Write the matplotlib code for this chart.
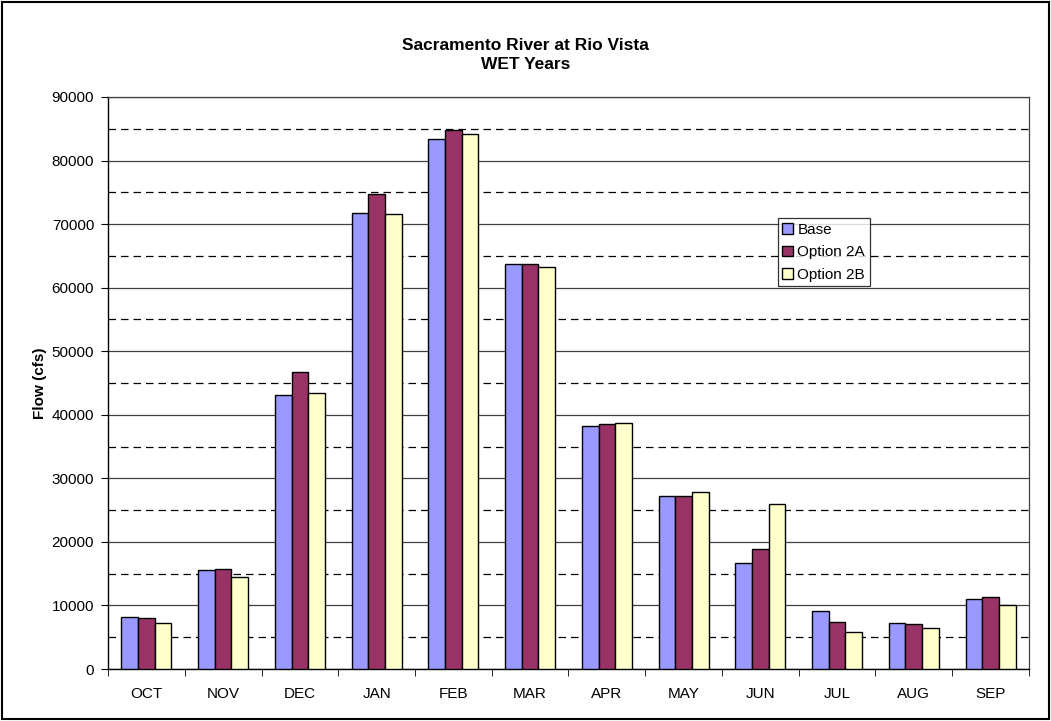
import matplotlib
matplotlib.use("Agg")
import matplotlib.pyplot as plt
import numpy as np
from matplotlib.patches import Rectangle

months = ["OCT", "NOV", "DEC", "JAN", "FEB", "MAR",
          "APR", "MAY", "JUN", "JUL", "AUG", "SEP"]
base = [8230, 15580, 43120, 71700, 83350, 63730,
        38240, 27270, 16730, 9130, 7190, 10960]
option_2a = [7980, 15690, 46780, 74700, 84760, 63730,
             38600, 27270, 18930, 7340, 7030, 11380]
option_2b = [7190, 14430, 43380, 71600, 84240, 63260,
             38710, 27900, 25960, 5770, 6400, 10120]

series = [("Base", base, "#9999FF"),
          ("Option 2A", option_2a, "#993366"),
          ("Option 2B", option_2b, "#FFFFCC")]

plt.rcParams["font.family"] = ["Liberation Sans", "DejaVu Sans"]

fig = plt.figure(figsize=(10.51, 7.21), dpi=100)
ax = fig.add_axes([0.1028, 0.0721, 0.8762, 0.7934])

x = np.arange(len(months))
width = 0.217
for i, (name, vals, color) in enumerate(series):
    ax.bar(x + (i - 1) * width, vals, width, color=color,
           edgecolor="black", linewidth=1.0, label=name, zorder=3)

ax.set_xlim(-0.5, len(months) - 0.5)
ax.set_ylim(0, 90000)

# y gridlines: solid every 10000, dashed halfway
ax.set_yticks(np.arange(0, 90001, 10000))
ax.set_yticks(np.arange(5000, 90000, 10000), minor=True)
ax.yaxis.grid(True, which="major", color="#404040", linewidth=0.9, zorder=0)
ax.yaxis.grid(True, which="minor", color="black", linestyle=(0, (6, 4)),
              linewidth=0.9, zorder=0)
ax.tick_params(axis="y", which="minor", length=0)
ax.tick_params(axis="y", which="major", length=5, direction="out",
               labelsize=11, pad=5)

# x ticks between categories, labels centered
ax.set_xticks(x)
ax.set_xticklabels(months)
ax.set_xticks(np.arange(-0.5, len(months)), minor=True)
ax.tick_params(axis="x", which="major", length=0, labelsize=11, pad=13)
ax.tick_params(axis="x", which="minor", length=5, direction="out")

ax.set_axisbelow(True)
for side in ["top", "right"]:
    ax.spines[side].set_color("#404040")
    ax.spines[side].set_linewidth(0.9)
for side in ["left", "bottom"]:
    ax.spines[side].set_color("black")
    ax.spines[side].set_linewidth(1.0)

ax.set_ylabel("Flow (cfs)", fontsize=11, fontweight="bold", labelpad=3)

fig.text(0.5, 0.924, "Sacramento River at Rio Vista\nWET Years",
         ha="center", va="center", fontsize=12.5, fontweight="bold",
         linespacing=1.3)

leg = ax.legend(loc="upper left", bbox_to_anchor=(0.727, 0.788),
                fontsize=11, frameon=True, fancybox=False,
                handlelength=0.7, handleheight=0.7, handletextpad=0.3,
                borderpad=0.3, labelspacing=0.55, borderaxespad=0)
leg.get_frame().set_edgecolor("black")
leg.get_frame().set_linewidth(0.9)

fig.patches.append(Rectangle((0.002, 0.003), 0.996, 0.994,
                             transform=fig.transFigure, fill=False,
                             edgecolor="black", linewidth=1.5))

fig.savefig("out.png", dpi=100)
